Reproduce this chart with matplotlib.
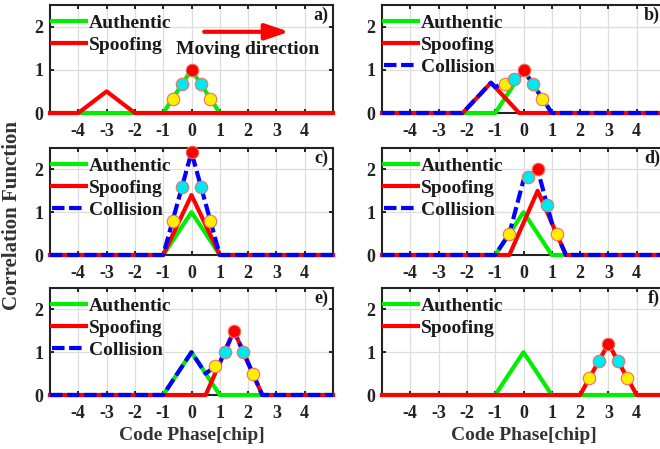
import matplotlib
matplotlib.use("Agg")
import matplotlib.pyplot as plt

plt.rcParams['font.family'] = ['Liberation Serif', 'DejaVu Serif']
plt.rcParams['font.weight'] = 'bold'
plt.rcParams['axes.unicode_minus'] = False

# authentic correlation triangle (same in every panel)
auth_x = [-5, -1, 0, 1, 5]
auth_y = [0, 0, 1, 0, 0]

# spoofing correlation per panel
spoof_a_x = [-5, -4, -3, -2, 5]
spoof_a_y = [0, 0, 0.5, 0, 0]
spoof_b_x = [-5, -2.15, -1.15, -0.15, 5]
spoof_b_y = [0, 0, 0.7, 0, 0]
spoof_c_x = [-5, -1, 0, 1, 5]
spoof_c_y = [0, 0, 1.4, 0, 0]
spoof_d_x = [-5, -0.5, 0.5, 1.5, 5]
spoof_d_y = [0, 0, 1.5, 0, 0]
spoof_e_x = [-5, 0.5, 1.5, 2.5, 5]
spoof_e_y = [0, 0, 1.5, 0, 0]
spoof_f_x = [-5, 2, 3, 4, 5]
spoof_f_y = [0, 0, 1.2, 0, 0]

# collision (combined) correlation, panels b-e
coll_b_x = [-5, -2.15, -1.15, -1, -0.15, 0, 1, 5]
coll_b_y = [0, 0, 0.7, 0.6, 0.85, 1, 0, 0]
coll_c_x = [-5, -1, 0, 1, 5]
coll_c_y = [0, 0, 2.4, 0, 0]
coll_d_x = [-5, -1, -0.5, 0, 0.5, 1, 1.5, 5]
coll_d_y = [0, 0, 0.5, 1.75, 2.0, 0.75, 0, 0]
coll_e_x = [-5, -1, 0, 0.5, 1, 1.5, 2.5, 5]
coll_e_y = [0, 0, 1, 0.5, 0.75, 1.5, 0, 0]

# correlator outputs: very early, early, prompt, late, very late
corr_a_x = [-0.67, -0.33, 0, 0.33, 0.67]
corr_a_y = [0.33, 0.67, 1.0, 0.67, 0.33]
corr_b_x = [-0.67, -0.33, 0, 0.33, 0.67]
corr_b_y = [0.68, 0.79, 1.0, 0.67, 0.33]
corr_c_x = [-0.67, -0.33, 0, 0.33, 0.67]
corr_c_y = [0.8, 1.6, 2.4, 1.6, 0.8]
corr_d_x = [-0.5, 0.17, 0.5, 0.83, 1.17]
corr_d_y = [0.5, 1.83, 2.0, 1.17, 0.5]
corr_e_x = [0.83, 1.17, 1.5, 1.83, 2.17]
corr_e_y = [0.67, 1.0, 1.5, 1.0, 0.5]
corr_f_x = [2.33, 2.67, 3, 3.33, 3.67]
corr_f_y = [0.4, 0.8, 1.2, 0.8, 0.4]

corr_colors = ['#ffee00', '#00e8f0', '#ff0000', '#00e8f0', '#ffee00']
panel_tags = ['a)', 'b)', 'c)', 'd)', 'e)', 'f)']
xticks = [-4, -3, -2, -1, 0, 1, 2, 3, 4]
yticks = [0, 1, 2]

panels = [
    (spoof_a_x, spoof_a_y, None, None, corr_a_x, corr_a_y),
    (spoof_b_x, spoof_b_y, coll_b_x, coll_b_y, corr_b_x, corr_b_y),
    (spoof_c_x, spoof_c_y, coll_c_x, coll_c_y, corr_c_x, corr_c_y),
    (spoof_d_x, spoof_d_y, coll_d_x, coll_d_y, corr_d_x, corr_d_y),
    (spoof_e_x, spoof_e_y, coll_e_x, coll_e_y, corr_e_x, corr_e_y),
    (spoof_f_x, spoof_f_y, None, None, corr_f_x, corr_f_y),
]

W, H = 660, 449
fig = plt.figure(figsize=(W / 100, H / 100), dpi=100)

col_left = [50, 382]
ax_w = 283
rows = [(5, 113), (148, 255), (288, 395)]

GREEN = '#00ee00'
lw = 3.0

for k, (sx, sy, cx, cy, mx, my) in enumerate(panels):
    r, c = divmod(k, 2)
    top, bot = rows[r]
    ax = fig.add_axes([col_left[c] / W, 1 - bot / H, ax_w / W, (bot - top) / H])
    ax.set_xlim(-5, 5)
    ax.set_ylim(0, 2.5)
    ax.set_xticks(xticks)
    ax.set_yticks(yticks)
    ax.grid(True, color='#dddddd', linewidth=0.9)
    ax.set_axisbelow(True)
    ax.tick_params(direction='in', top=True, right=True, length=3, width=1.2,
                   labelsize=13, labelcolor='#222222')
    ax.tick_params(axis='x', pad=7)
    ax.tick_params(axis='y', pad=5)
    for sp in ax.spines.values():
        sp.set_linewidth(1.5)
        sp.set_color('#222222')
        sp.set_zorder(1)

    handles = []
    h1, = ax.plot(auth_x, auth_y, color=GREEN, lw=lw, label='Authentic',
                  zorder=2, clip_on=False)
    h2, = ax.plot(sx, sy, color='red', lw=lw, label='Spoofing', zorder=3,
                  clip_on=False)
    handles += [h1, h2]
    if cx is not None:
        h3, = ax.plot(cx, cy, color='blue', lw=lw, linestyle=(0, (3.0, 1.1)),
                      label='Collision', zorder=4, clip_on=False)
        handles.append(h3)
    for xv, yv, fc in zip(mx, my, corr_colors):
        ax.plot(xv, yv, 'o', ms=9, mfc=fc, mec='#f07060', mew=0.8,
                zorder=6, clip_on=False)

    leg = ax.legend(handles=handles, loc='upper left', bbox_to_anchor=(0, 0.935),
                    frameon=False, fontsize=14, handlelength=1.75,
                    handletextpad=0.15, labelspacing=0.24,
                    borderpad=0.1, borderaxespad=0)
    for t in leg.get_texts():
        t.set_color('#1a1a1a')
    ax.text(4.82, 2.27, panel_tags[k], ha='right', va='center', fontsize=13,
            fontweight='bold', color='#1a1a1a')

    if k == 0:
        ax.annotate('', xy=(3.45, 1.88), xytext=(0.45, 1.88),
                    arrowprops=dict(arrowstyle='-|>,head_length=0.65,head_width=0.22',
                                    color='red', lw=3.0, mutation_scale=22,
                                    shrinkA=0, shrinkB=0))
        ax.text(-0.55, 1.47, 'Moving direction', ha='left', va='center',
                fontsize=14, fontweight='bold', color='#1a1a1a')
    if r == 2:
        ax.set_xlabel('Code Phase[chip]', fontsize=14, fontweight='bold',
                      labelpad=4, color='#333333')

fig.text(0.018, 0.52, 'Correlation Function', rotation=90, ha='center',
         va='center', fontsize=15, fontweight='bold', color='#333333')

fig.savefig('out.png', dpi=100)
